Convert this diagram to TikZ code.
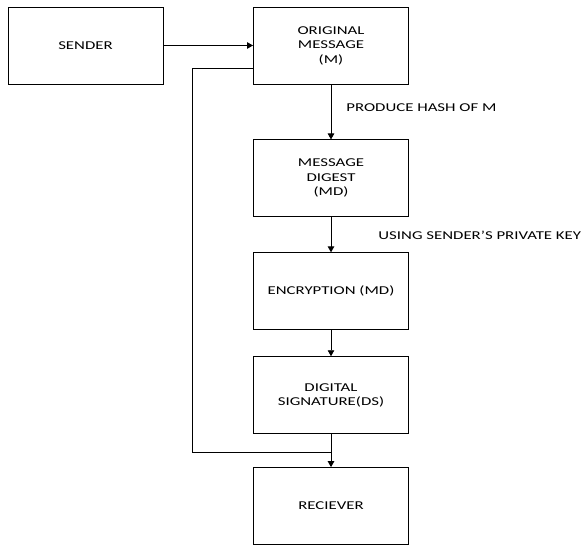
\documentclass[tikz,border=0pt]{standalone}
\usepackage{fontspec}
\setmainfont{Carlito}[FakeStretch=1.4]
\usetikzlibrary{arrows.meta, positioning}

\begin{document}
\begin{tikzpicture}[x=1pt, y=1pt, line width=0.9pt,
                box/.style={rectangle, draw, minimum width=155pt, minimum height=77pt, align=center, font=\fontsize{12}{14.5}\selectfont},
                arrow/.style={-{Triangle[length=6pt, width=6.5pt]}},
                note/.style={anchor=west, inner sep=0pt, font=\fontsize{12}{14.5}\selectfont}]
                \useasboundingbox (0,0) rectangle (588,-545);
                \node[box] (sender) at (85.5,-45.5) {SENDER};
                \node[box] (orig) at (331,-45.5) {ORIGINAL\\MESSAGE\\(M)};
                \node[box, below=55pt of orig] (digest) {MESSAGE\\DIGEST\\(MD)};
                \node[box, below=35pt of digest] (encrypt) {ENCRYPTION (MD)};
                \node[box, below=26pt of encrypt] (sign) {DIGITAL\\SIGNATURE(DS)};
                \node[box, below=33pt of sign] (receiver) {RECIEVER};
                \node[note] (hashnote) at (346,-108) {PRODUCE HASH OF M};
                \node[note] (keynote) at (378,-235) {USING SENDER’S PRIVATE KEY};
                \coordinate (turn) at (192,-452);

                \draw[arrow] (sender) -- (orig);
                \draw[arrow] (orig) -- (digest);
                \draw[arrow] (digest) -- (encrypt);
                \draw[arrow] (encrypt) -- (sign);
                \draw[arrow] (sign) -- (receiver);
                % copy of M sent straight on
                \draw ([yshift=-22.5pt]orig.west) -| (turn) -- (turn -| receiver.north);
\end{tikzpicture}
\end{document}
